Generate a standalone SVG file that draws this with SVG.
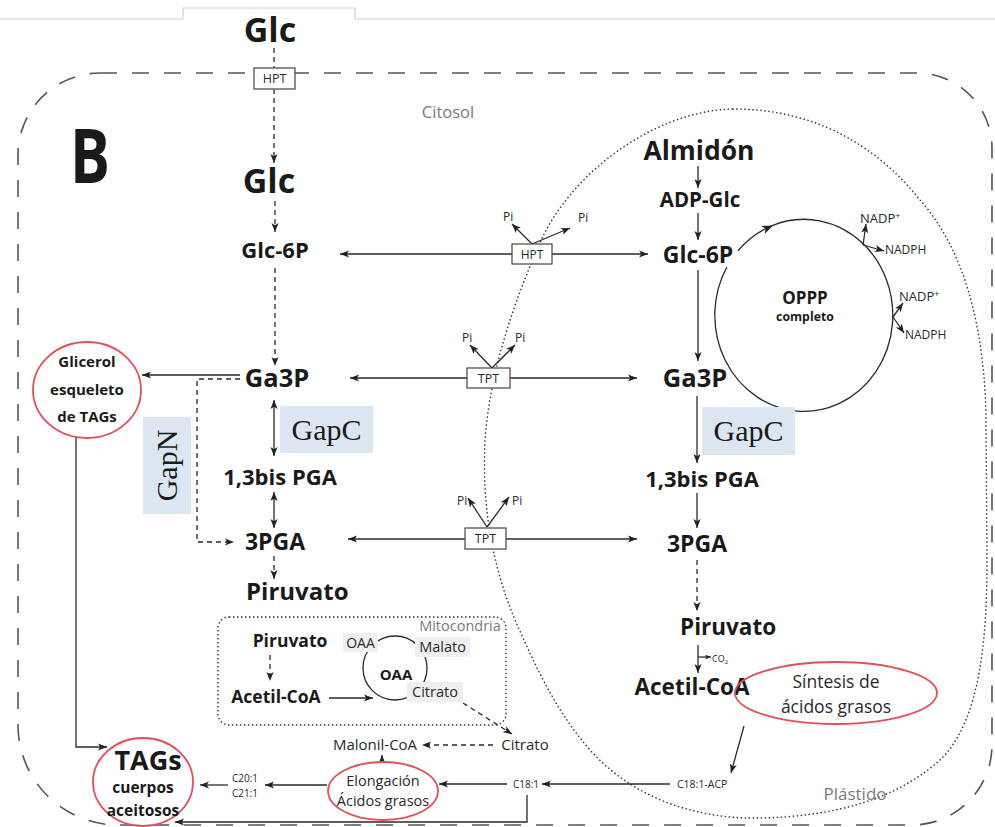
<svg xmlns="http://www.w3.org/2000/svg" width="995" height="827" viewBox="0 0 995 827">
<defs>
<style>
.b{font-family:"Open Sans","Noto Sans",sans-serif;font-weight:700;fill:#1a1a1a}
.n{font-family:"Open Sans","Noto Sans",sans-serif;fill:#2a2a2a}
.g{font-family:"Open Sans","Noto Sans",sans-serif;fill:#7a7a7a}
.sf{font-family:"Liberation Serif","Times New Roman",serif;fill:#1a1a1a}
.ln{stroke:#2a2a2a;stroke-width:1.3;fill:none}
.ar{marker-end:url(#a)}
.dar{marker-start:url(#a);marker-end:url(#a)}
.dsh{stroke-dasharray:5 4}
.red{fill:#fff;stroke:#e0505c;stroke-width:1.8}
.redo{fill:none;stroke:#e0505c;stroke-width:1.8}
.box{fill:#fff;stroke:#444;stroke-width:1.2}
.blue{fill:#dce6f1}
.lab{fill:#efefef}
</style>
<marker id="a" viewBox="0 0 10 8" refX="10" refY="4" markerWidth="9" markerHeight="7.2" markerUnits="userSpaceOnUse" orient="auto-start-reverse"><path d="M0,0 L10,4 L0,8 L2.5,4 z" fill="#222"/></marker>
<marker id="s" viewBox="0 0 10 8" refX="10" refY="4" markerWidth="6" markerHeight="4.8" markerUnits="userSpaceOnUse" orient="auto"><path d="M0,0 L10,4 L0,8 L2.5,4 z" fill="#222"/></marker>
</defs>
<rect width="995" height="827" fill="#fff"/>
<!-- page edge -->
<path d="M0 19 H183 V8 H355 V19 H995" fill="none" stroke="#d0d0d0" stroke-width="1.2"/>
<!-- compartments -->
<g id="citosol">
<path d="M100 73 H917 A75 75 0 0 1 992 148 V745 A80 80 0 0 1 912 825 H118 A100 100 0 0 1 18 725 V155 A82 82 0 0 1 100 73 Z" fill="none" stroke="#555" stroke-width="1.6" stroke-dasharray="17 15"/>
<text class="g" x="448" y="118" font-size="16.5" text-anchor="middle">Citosol</text>
</g>
<g id="plastido">
<path d="M733 109 C680 110 620 140 577 187 C555 212 545 230 537 250 C515 300 490 370 485 440 C482 500 490 560 515 620 C535 665 555 710 590 750 C630 795 690 818 753 818 C830 818 900 800 945 755 C980 715 987 640 987 560 L986 420 C985 330 965 250 920 200 C880 150 820 109 733 109 Z" fill="none" stroke="#333" stroke-width="1.4" stroke-dasharray="1.5 2.5"/>
<text class="g" x="855" y="800" font-size="17" text-anchor="middle">Plástido</text>
</g>
<g id="mitocondria">
<rect x="218" y="617" width="288" height="108" rx="11" fill="none" stroke="#333" stroke-width="1.4" stroke-dasharray="1.5 2.5"/>
<text class="g" x="460" y="631" font-size="14.5" text-anchor="middle">Mitocondria</text>
</g>
<text class="b" x="70" y="183" font-size="76" textLength="40" lengthAdjust="spacingAndGlyphs" fill="#1a1a1a">B</text>

<!-- connectors -->
<g id="connectors">
<line class="ln dsh" x1="274" y1="48" x2="274" y2="68"/>
<line class="ln dsh ar" x1="274" y1="89" x2="274" y2="163"/>
<line class="ln dsh ar" x1="275" y1="201" x2="275" y2="232"/>
<line class="ln ar" x1="512" y1="254" x2="340" y2="254"/>
<line class="ln ar" x1="552" y1="254" x2="648" y2="254"/>
<line class="ln ar" x1="532" y1="244" x2="512" y2="224"/>
<line class="ln ar" x1="532" y1="244" x2="570" y2="228"/>
<line class="ln dsh ar" x1="275" y1="268" x2="275" y2="366"/>
<line class="ln ar" x1="240" y1="375" x2="142" y2="375"/>
<path class="ln dsh ar" d="M240 379 H197 V542 H234"/>
<line class="ln dar" x1="274" y1="400" x2="274" y2="456"/>
<line class="ln dar" x1="274" y1="492" x2="274" y2="528"/>
<line class="ln ar" x1="467" y1="378" x2="350" y2="378"/>
<line class="ln ar" x1="510" y1="378" x2="637" y2="378"/>
<line class="ln ar" x1="492" y1="368" x2="470" y2="345"/>
<line class="ln ar" x1="492" y1="368" x2="515" y2="345"/>
<line class="ln ar" x1="465" y1="539" x2="348" y2="539"/>
<line class="ln ar" x1="506" y1="539" x2="637" y2="539"/>
<line class="ln ar" x1="487" y1="527" x2="468" y2="498"/>
<line class="ln ar" x1="487" y1="527" x2="509" y2="497"/>
<line class="ln dsh ar" x1="274" y1="556" x2="274" y2="579"/>
<!-- plastid column -->
<line class="ln ar" x1="698" y1="166" x2="698" y2="188"/>
<line class="ln ar" x1="698" y1="213" x2="698" y2="240"/>
<line class="ln ar" x1="698" y1="270" x2="698" y2="361"/>
<line class="ln ar" x1="697" y1="396" x2="697" y2="463"/>
<line class="ln ar" x1="697" y1="493" x2="697" y2="528"/>
<line class="ln dsh ar" x1="697" y1="560" x2="697" y2="611"/>
<line class="ln ar" x1="698" y1="645" x2="698" y2="673"/>
<line class="ln" x1="698" y1="657" x2="711" y2="657" marker-end="url(#s)"/>
<!-- OPPP -->
<path class="ln" d="M737.9 250.8 A89 96 0 1 1 726.9 267"/>
<path d="M0,0 L-11,-4.4 L-8,0 L-11,4.4 z" fill="#222" transform="translate(773 225.5) rotate(-24)"/>
<line class="ln ar" x1="863" y1="245" x2="866" y2="224"/>
<line class="ln ar" x1="863" y1="245" x2="884" y2="251"/>
<line class="ln ar" x1="893" y1="317" x2="903" y2="303"/>
<line class="ln ar" x1="893" y1="317" x2="904" y2="333"/>
<!-- lipids -->
<line class="ln ar" x1="744" y1="726" x2="731" y2="773"/>
<line class="ln ar" x1="670" y1="784" x2="542" y2="784"/>
<line class="ln ar" x1="507" y1="784" x2="439" y2="784"/>
<line class="ln ar" x1="327" y1="785" x2="265" y2="785"/>
<line class="ln ar" x1="228" y1="785" x2="200" y2="785"/>
<path class="ln ar" d="M527 795 V822 H175"/>
<path class="ln ar" d="M76 437 V747 H107"/>
<line class="ln dar" x1="382" y1="755" x2="382" y2="778"/>
<line class="ln dsh ar" x1="493" y1="745" x2="422" y2="745"/>
<line class="ln dsh ar" x1="463" y1="703" x2="512" y2="734"/>
<line class="ln dsh ar" x1="270" y1="655" x2="270" y2="681"/>
<line class="ln ar" x1="329" y1="698" x2="373" y2="698"/>
<circle class="ln" cx="395" cy="668" r="32"/>
</g>

<!-- transporters -->
<g id="hpt-top"><rect class="box" x="254" y="68" width="41" height="21"/><text class="n" x="274.5" y="83" font-size="12.5" text-anchor="middle">HPT</text></g>
<g id="hpt"><rect class="box" x="512" y="244" width="40" height="20"/><text class="n" x="532" y="259" font-size="12" text-anchor="middle">HPT</text>
<text class="n" x="503" y="221" font-size="12">Pi</text><text class="n" x="578" y="222" font-size="12">Pi</text></g>
<g id="tpt1"><rect class="box" x="467" y="368" width="43" height="20"/><text class="n" x="488.5" y="383" font-size="12.5" text-anchor="middle">TPT</text>
<text class="n" x="462" y="342" font-size="12">Pi</text><text class="n" x="515" y="342" font-size="12">Pi</text></g>
<g id="tpt2"><rect class="box" x="465" y="528" width="41" height="21"/><text class="n" x="485.5" y="543" font-size="12.5" text-anchor="middle">TPT</text>
<text class="n" x="457" y="505" font-size="12">Pi</text><text class="n" x="512" y="505" font-size="12">Pi</text></g>

<!-- cytosol nodes -->
<g id="glc-ext"><text class="b" x="270" y="42" font-size="34" text-anchor="middle">Glc</text></g>
<g id="glc"><text class="b" x="269" y="193" font-size="34" text-anchor="middle">Glc</text></g>
<g id="glc6p-c"><text class="b" x="275" y="258" font-size="22" text-anchor="middle">Glc-6P</text></g>
<g id="ga3p-c"><text class="b" x="277" y="387" font-size="25.5" text-anchor="middle">Ga3P</text></g>
<g id="bpga-c"><text class="b" x="280" y="485" font-size="22" text-anchor="middle">1,3bis PGA</text></g>
<g id="pga-c"><text class="b" x="275" y="550" font-size="23" text-anchor="middle">3PGA</text></g>
<g id="piruvato-c"><text class="b" x="246" y="600" font-size="24">Piruvato</text></g>
<g id="gapc-c"><rect class="blue" x="280" y="406" width="93" height="47"/><text class="sf" x="326.5" y="440" font-size="30" text-anchor="middle">GapC</text></g>
<g id="gapn"><rect class="blue" x="143" y="417" width="48" height="97"/><text class="sf" transform="translate(177 465.5) rotate(-90)" font-size="30" text-anchor="middle">GapN</text></g>
<g id="glicerol"><ellipse class="red" cx="87" cy="390" rx="54" ry="48"/>
<text class="b" x="87" y="367" font-size="15" text-anchor="middle">Glicerol</text>
<text class="b" x="87" y="395" font-size="15" text-anchor="middle">esqueleto</text>
<text class="b" x="87" y="422" font-size="15" text-anchor="middle">de TAGs</text></g>

<!-- mitochondria nodes -->
<g id="mito-piruvato"><text class="b" x="290" y="647" font-size="17.5" text-anchor="middle">Piruvato</text></g>
<g id="mito-acetil"><text class="b" x="276" y="703" font-size="17.5" text-anchor="middle">Acetil-CoA</text></g>
<g id="oaa1"><rect class="lab" x="343" y="633" width="35" height="19"/><text class="n" x="360.5" y="648" font-size="14" text-anchor="middle">OAA</text></g>
<g id="malato"><rect class="lab" x="415" y="637" width="55" height="20"/><text class="n" x="442.5" y="652" font-size="14.5" text-anchor="middle">Malato</text></g>
<g id="oaa2"><text class="b" x="396" y="680" font-size="15" text-anchor="middle">OAA</text></g>
<g id="citrato-m"><rect class="lab" x="407" y="682" width="56" height="20"/><text class="n" x="435" y="697" font-size="14.5" text-anchor="middle">Citrato</text></g>

<!-- plastid nodes -->
<g id="almidon"><text class="b" x="699" y="160" font-size="26.5" text-anchor="middle">Almidón</text></g>
<g id="adpglc"><text class="b" x="700" y="207" font-size="20.5" text-anchor="middle">ADP-Glc</text></g>
<g id="glc6p-p"><text class="b" x="698" y="263" font-size="23" text-anchor="middle">Glc-6P</text></g>
<g id="oppp"><text class="b" x="805" y="304" font-size="17" text-anchor="middle">OPPP</text><text class="b" x="805" y="321" font-size="12.3" text-anchor="middle">completo</text>
<text class="n" x="860" y="223" font-size="13">NADP<tspan font-size="9" dy="-4">+</tspan></text>
<text class="n" x="885" y="254" font-size="12">NADPH</text>
<text class="n" x="899" y="301" font-size="13">NADP<tspan font-size="9" dy="-4">+</tspan></text>
<text class="n" x="905" y="339" font-size="12">NADPH</text></g>
<g id="ga3p-p"><text class="b" x="695" y="387" font-size="25.5" text-anchor="middle">Ga3P</text></g>
<g id="gapc-p"><rect class="blue" x="702" y="407" width="93" height="48"/><text class="sf" x="748.5" y="441" font-size="30" text-anchor="middle">GapC</text></g>
<g id="bpga-p"><text class="b" x="702" y="487" font-size="22" text-anchor="middle">1,3bis PGA</text></g>
<g id="pga-p"><text class="b" x="697" y="552" font-size="23" text-anchor="middle">3PGA</text></g>
<g id="piruvato-p"><text class="b" x="680" y="635" font-size="22.5">Piruvato</text></g>
<g id="co2"><text class="n" x="712" y="662" font-size="9">CO<tspan font-size="6" dy="2">2</tspan></text></g>
<g id="acetil-p"><text class="b" x="692" y="695" font-size="22.5" text-anchor="middle">Acetil-CoA</text></g>
<g id="sintesis"><ellipse class="redo" cx="836" cy="693" rx="101" ry="31"/>
<text class="n" x="836" y="688" font-size="17.5" text-anchor="middle">Síntesis de</text>
<text class="n" x="836" y="713" font-size="17.5" text-anchor="middle">ácidos grasos</text></g>
<g id="c181acp"><text class="n" x="677" y="788" font-size="10.5">C18:1-ACP</text></g>

<!-- lipid nodes -->
<g id="c181"><text class="n" x="513" y="788" font-size="10">C18:1</text></g>
<g id="citrato"><text class="n" x="525" y="750" font-size="15" text-anchor="middle">Citrato</text></g>
<g id="malonil"><text class="n" x="375" y="750" font-size="15" text-anchor="middle">Malonil-CoA</text></g>
<g id="elongacion"><ellipse class="red" cx="383" cy="791" rx="55" ry="29"/>
<text class="n" x="383" y="786" font-size="14.5" text-anchor="middle">Elongación</text>
<text class="n" x="383" y="806" font-size="14.5" text-anchor="middle">Ácidos grasos</text></g>
<g id="c20"><text class="n" x="245" y="782" font-size="10" text-anchor="middle">C20:1</text><text class="n" x="245" y="797" font-size="10" text-anchor="middle">C21:1</text></g>
<g id="tags"><ellipse class="red" cx="143" cy="782" rx="50" ry="44"/>
<text class="b" x="148" y="770" font-size="27" text-anchor="middle">TAGs</text>
<text class="b" x="143" y="793" font-size="15.5" text-anchor="middle">cuerpos</text>
<text class="b" x="143" y="816" font-size="15.5" text-anchor="middle">aceitosos</text></g>
</svg>
